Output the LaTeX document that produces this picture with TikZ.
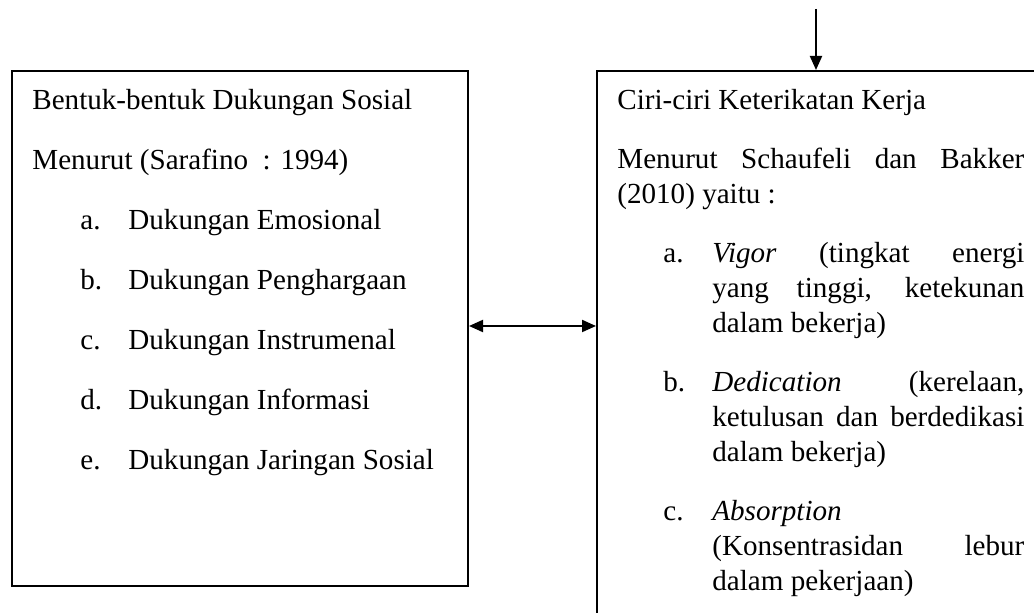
\documentclass[tikz,border=0pt]{standalone}
\usepackage{fontspec}
\setmainfont{Liberation Serif}
\usetikzlibrary{arrows.meta}
\begin{document}
\begin{tikzpicture}[x=0.5pt,y=-0.5pt,
  box/.style={draw,line width=1pt,rectangle,inner sep=0pt,anchor=north west},
  txt/.style={anchor=base west,inner sep=0pt,font=\fontsize{14.55}{17}\selectfont},
  arr/.style={line width=1pt,-{Triangle[length=7pt,width=6pt]}},
  dbl/.style={line width=1pt,{Triangle[length=7pt,width=6pt]}-{Triangle[length=7pt,width=6pt]}}]
\clip (0,0) rectangle (1034,613);
\node[box,minimum width=228pt,minimum height=257.5pt] (lbox) at (11,70) {};
\node[box,minimum width=225pt,minimum height=285pt] (rbox) at (596,70) {};
\coordinate (src) at (816,9);
\draw[arr] (src) -- (src |- rbox.north);
\coordinate (mid) at (532,326);
\draw[dbl] (mid -| lbox.east) -- (mid -| rbox.west);
% left box text
\node[txt] (l1) at (32,109.5) {Bentuk-bentuk Dukungan Sosial};
\node[txt] (l2) at (32,169.5) {Menurut (Sarafino \ : 1994)};
\node[txt] (la) at (80,229.5) {a.};
\node[txt] (lat) at (128,229.5) {Dukungan Emosional};
\node[txt] (lb) at (80,289.5) {b.};
\node[txt] (lbt) at (128,289.5) {Dukungan Penghargaan};
\node[txt] (lc) at (80,349.5) {c.};
\node[txt] (lct) at (128,349.5) {Dukungan Instrumenal};
\node[txt] (ld) at (80,409.5) {d.};
\node[txt] (ldt) at (128,409.5) {Dukungan Informasi};
\node[txt] (le) at (80,469.5) {e.};
\node[txt] (let) at (128,469.5) {Dukungan Jaringan Sosial};
% right box text
\node[txt] (r1) at (617,109.5) {Ciri-ciri Keterikatan Kerja};
\node[txt] (r2) at (617,168.5) {\makebox[203.5pt][s]{Menurut Schaufeli dan Bakker}};
\node[txt] (r3) at (617,203.5) {(2010) yaitu :};
\node[txt] (ra) at (663,262.5) {a.};
\node[txt] (ra1) at (712,262.5) {\makebox[156pt][s]{\textit{Vigor} (tingkat energi}};
\node[txt] (ra2) at (712,297.5) {\makebox[156pt][s]{yang tinggi, ketekunan}};
\node[txt] (ra3) at (712,332.5) {dalam bekerja)};
\node[txt] (rb) at (663,391.5) {b.};
\node[txt] (rb1) at (712,391.5) {\makebox[156pt][s]{\textit{Dedication} (kerelaan,}};
\node[txt] (rb2) at (712,426.5) {\makebox[156pt][s]{ketulusan dan berdedikasi}};
\node[txt] (rb3) at (712,461.5) {dalam bekerja)};
\node[txt] (rc) at (663,520.5) {c.};
\node[txt] (rc1) at (712,520.5) {\textit{Absorption}};
\node[txt] (rc2) at (712,555.5) {\makebox[156pt][s]{(Konsentrasidan lebur}};
\node[txt] (rc3) at (712,590.5) {dalam pekerjaan)};
\end{tikzpicture}
\end{document}
